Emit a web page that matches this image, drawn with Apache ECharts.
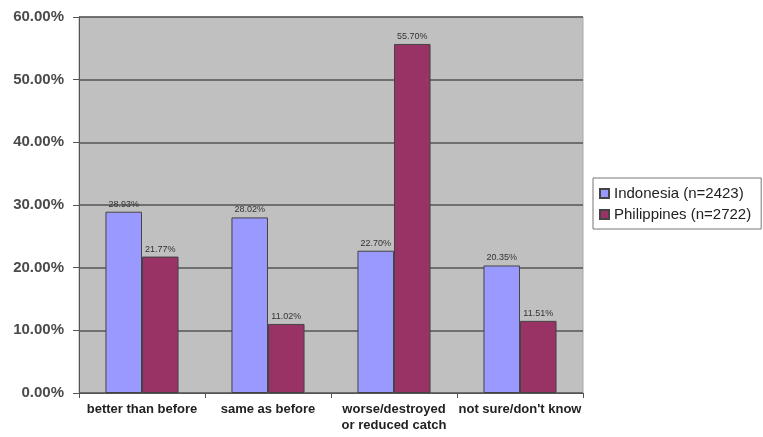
<!DOCTYPE html>
<html>
<head>
<meta charset="utf-8">
<script src="https://cdn.jsdelivr.net/npm/echarts@6/dist/echarts.min.js"></script>
<style>
html,body{margin:0;padding:0;background:#fff;}
#chart{width:763px;height:437px;}
</style>
</head>
<body>
<div id="chart"></div>
<script>
// Reported change in fish catch, by country
const categories = ['better than before', 'same as before', 'worse/destroyed\nor reduced catch', "not sure/don't know"];
const indonesia = [28.93, 28.02, 22.70, 20.35];
const philippines = [21.77, 11.02, 55.70, 11.51];
const yTicks = [0, 10, 20, 30, 40, 50, 60];
const seriesNames = ['Indonesia (n=2423)', 'Philippines (n=2722)'];

const chart = echarts.init(document.getElementById('chart'));
const labelStyle = {
  show: true,
  position: 'top',
  distance: 3,
  fontSize: 9,
  color: '#333',
  fontFamily: 'Liberation Sans, Arial, sans-serif',
  formatter: p => p.value.toFixed(2) + '%'
};
chart.setOption({
  animation: false,
  backgroundColor: '#fff',
  grid: {
    left: 79, right: 180, top: 17, bottom: 44,
    show: true, backgroundColor: '#c0c0c0', borderColor: '#a8a8a8', borderWidth: 1
  },
  legend: {
    orient: 'vertical',
    left: 593, top: 178,
    backgroundColor: '#fff',
    borderColor: '#777',
    borderWidth: 1,
    padding: [8, 10, 7, 6],
    itemWidth: 9, itemHeight: 9,
    itemGap: 6,
    icon: 'rect',
    textStyle: { fontSize: 15, color: '#222', fontFamily: 'Liberation Sans, Arial, sans-serif' },
    data: seriesNames
  },
  xAxis: {
    type: 'category',
    data: categories,
    axisLine: { lineStyle: { color: '#555', width: 1 } },
    axisTick: { show: true, alignWithLabel: false, length: 5, lineStyle: { color: '#555' } },
    axisLabel: {
      interval: 0, fontSize: 13, fontWeight: 'bold', color: '#222', margin: 8, lineHeight: 16,
      fontFamily: 'Liberation Sans, Arial, sans-serif'
    }
  },
  yAxis: {
    type: 'value',
    min: yTicks[0], max: yTicks[yTicks.length - 1], interval: 10,
    axisLine: { show: true, lineStyle: { color: '#555' } },
    axisTick: { show: true, length: 6, lineStyle: { color: '#555' } },
    splitLine: { lineStyle: { color: '#555', width: 1.5 } },
    axisLabel: {
      fontSize: 15, fontWeight: 'bold', color: '#4a4a4a', margin: 15,
      fontFamily: 'Liberation Sans, Arial, sans-serif',
      formatter: v => v.toFixed(2) + '%'
    }
  },
  series: [
    {
      name: seriesNames[0], type: 'bar', data: indonesia,
      barGap: '0%', barCategoryGap: '42%',
      itemStyle: { color: '#9999ff', borderColor: '#444', borderWidth: 1 },
      label: labelStyle
    },
    {
      name: seriesNames[1], type: 'bar', data: philippines,
      itemStyle: { color: '#993366', borderColor: '#444', borderWidth: 1 },
      label: labelStyle
    }
  ]
});
</script>
</body>
</html>
